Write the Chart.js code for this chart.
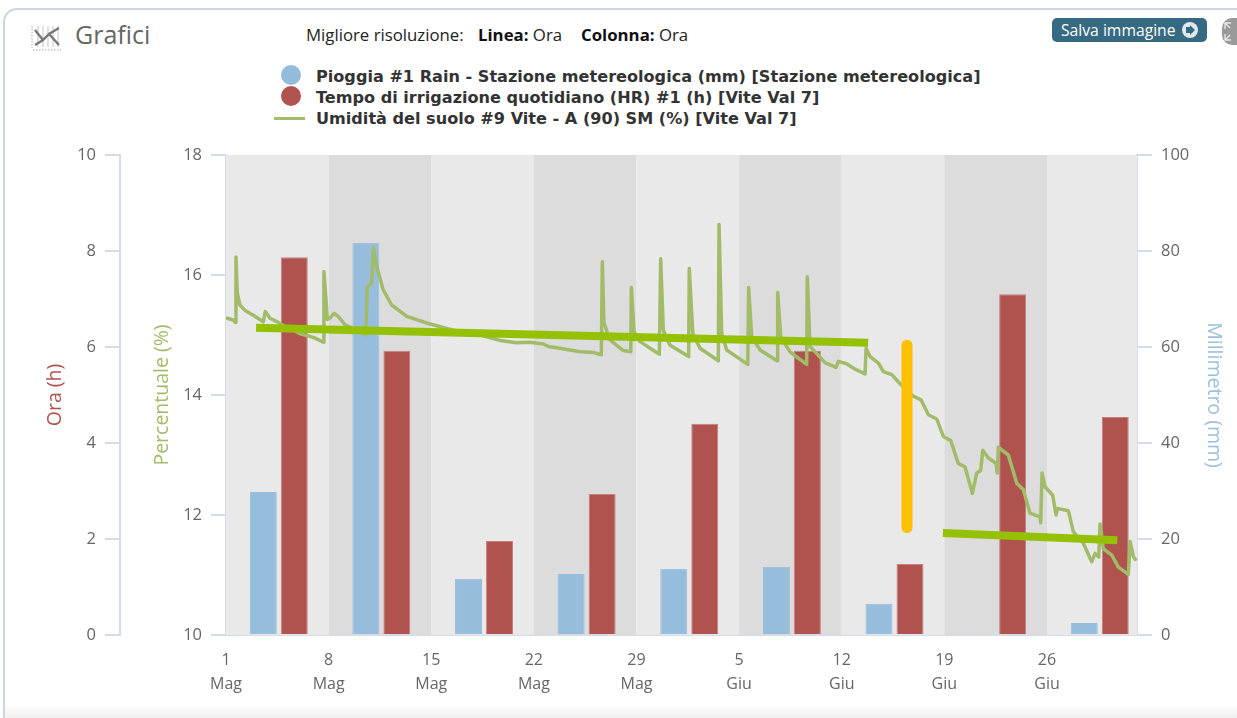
<!DOCTYPE html>
<html lang="it">
<head>
<meta charset="utf-8">
<title>Grafici</title>
<script src="https://cdn.jsdelivr.net/npm/chart.js@4/dist/chart.umd.min.js"></script>
<style>
    html, body { margin: 0; padding: 0; background: #fff; overflow: hidden; }
    body { width: 1237px; height: 718px; position: relative; font-family: "Open Sans", sans-serif; color: #222; }
    canvas { position: absolute; left: 0; top: 0; }
    .card {
        position: absolute; left: 3px; top: 8px; width: 1300px; height: 760px; box-sizing: border-box;
        border: 2px solid #ccd5df; border-radius: 14px;
    }
    .fade { position: absolute; left: 5px; right: 0; top: 704px; height: 14px; background: linear-gradient(#fff, #f0f0f0); }
    .txt { position: absolute; white-space: nowrap; line-height: 20px; }
    .title { left: 75px; top: 18px; font-size: 25px; line-height: 32px; color: #666; }
    .res { top: 25px; font-size: 16.8px; color: #222; }
    .res b { font-weight: 700; color: #111; }
    .leg { left: 316px; font-family: "DejaVu Sans", sans-serif; font-size: 16.1px; font-weight: 700; color: #333; }
    .dot { position: absolute; left: 281px; width: 20px; height: 20px; border-radius: 50%; }
    .dash { position: absolute; left: 274px; top: 117px; width: 31px; height: 3px; background: #a3bd6b; }
    .save {
        position: absolute; left: 1052px; top: 18px; width: 155px; height: 24px; border-radius: 5px;
        background: #366a82; color: #fff; font-size: 15.7px; line-height: 24px; padding-left: 9px; box-sizing: border-box;
    }
    .save svg { position: absolute; right: 9px; top: 4px; }
    .zoom { position: absolute; left: 1222px; top: 18px; width: 30px; height: 27px; border-radius: 10px; background: #9a9a9a; }
    svg.icon { position: absolute; left: 30px; top: 23px; }
    svg.arrows { position: absolute; left: 1224px; top: 22px; }
</style>
</head>
<body>
<div class="card"></div>
<div class="fade"></div>
<svg class="icon" width="34" height="32" viewBox="0 0 34 32">
    <g stroke="#c4c4c4" stroke-width="1">
        <path d="M8 3V24M13 3V24M18 3V24M23 3V24M28 3V24"/>
    </g>
    <path d="M2 3V25M3 27H31" stroke="#aaa" stroke-width="1" stroke-dasharray="1.5 1.5" fill="none"/>
    <path d="M5 7L13 17L19 11L29 22M5 22L13 17L19 11L29 5" stroke="#777" stroke-width="2.4" fill="none"/>
</svg>
<div class="txt title">Grafici</div>
<div class="txt res" style="left:306px">Migliore risoluzione:</div>
<div class="txt res" style="left:478px"><b>Linea:</b> Ora</div>
<div class="txt res" style="left:581px"><b>Colonna:</b> Ora</div>
<div class="save">Salva immagine<svg width="16" height="16" viewBox="0 0 16 16">
    <circle cx="8" cy="8" r="8" fill="#dfe8ec"/>
    <path d="M4 5H8V3L13 8L8 13V11H4Z" fill="#366a82"/>
</svg></div>
<div class="zoom"></div>
<svg class="arrows" width="13" height="19" viewBox="0 0 13 19">
    <path d="M1 7V1H7M1 1L6 6M1 12V18H7M1 18L6 13" stroke="#e8e8e8" stroke-width="1.3" fill="none"/>
</svg>

<div class="dot" style="top:65px;background:#93bbdc"></div>
<div class="dot" style="top:86px;background:#b0524e"></div>
<div class="dash"></div>
<div class="txt leg" style="top:67px" id="legRain"></div>
<div class="txt leg" style="top:88px" id="legIrr"></div>
<div class="txt leg" style="top:109px" id="legSoil"></div>

<canvas id="chart" width="1237" height="718"></canvas>

<script>
// x axis is in days counted from 1 May
const tickDays = [0, 7, 14, 21, 28, 35, 42, 49, 56];
const tickDayLabels = ["1", "8", "15", "22", "29", "5", "12", "19", "26"];
const tickMonthLabels = ["Mag", "Mag", "Mag", "Mag", "Mag", "Giu", "Giu", "Giu", "Giu"];
const bandEdges = [0, 7, 14, 21, 28, 35, 42, 49, 56, 62.14];

const weekCenters = [3.6, 10.6, 17.6, 24.6, 31.6, 38.6, 45.6, 52.6, 59.6];
const rainMm = [29.8, 81.7, 11.7, 12.7, 13.8, 14.2, 6.5, null, 2.5];
const irrigationHours = [7.87, 5.92, 1.96, 2.94, 4.4, 5.92, 1.48, 7.1, 4.54];

const moistureDays = [
    0.09, 0.5, 0.63, 0.68, 0.77, 0.95, 1.3, 1.86, 2.54, 2.68, 3, 3.57, 4.14, 5.05, 5.96, 6.64, 6.68, 6.82, 6.91, 7.09,
    7.37, 7.66, 8.12, 8.68, 9.53, 9.64, 9.94, 10.05, 10.28, 10.73, 11.3, 12.33, 13.69, 15.5, 17.33, 18.69, 19.83, 20.74,
    21.64, 21.99, 22.78, 23.47, 24.15, 25.05, 25.6, 25.67, 25.78, 26.19, 27.1, 27.61, 27.65, 27.83, 28.24, 29.56, 29.65,
    29.83, 30.29, 31.56, 31.6, 31.84, 32.33, 33.58, 33.63, 33.81, 34.15, 35.59, 35.65, 35.86, 36.43, 37.59, 37.63, 37.84,
    38.47, 39.61, 39.65, 39.84, 40.86, 41.61, 41.77, 42.34, 42.91, 43.59, 43.66, 43.93, 44.5, 44.84, 45.41, 45.93, 46.88,
    47.41, 47.91, 48.48, 48.93, 49.43, 49.95, 50.41, 50.91, 51.21, 51.48, 51.62, 52, 52.52, 52.61, 52.68, 53.36, 53.94,
    54.39, 54.84, 55.53, 55.57, 55.66, 55.87, 56.39, 56.62, 56.71, 57.46, 57.8, 58.48, 59.05, 59.28, 59.53, 59.62, 59.84,
    60.42, 60.87, 61.55, 61.67, 61.89, 62.03
];
const moisturePct = [
    15.28, 15.25, 15.21, 16.3, 15.7, 15.5, 15.41, 15.33, 15.22, 15.39, 15.28, 15.21, 15.13, 15.02, 14.96, 14.88, 16.06, 15.58, 15.26, 15.28,
    15.36, 15.31, 15.17, 15.11, 15, 15.81, 15.86, 16.45, 16.14, 15.75, 15.5, 15.31, 15.2, 15.08, 15, 14.91, 14.87, 14.88,
    14.85, 14.81, 14.78, 14.75, 14.72, 14.71, 14.67, 16.22, 15.2, 14.92, 14.74, 14.72, 15.79, 15.06, 14.89, 14.68, 16.27,
    15.08, 14.83, 14.64, 16.11, 15.03, 14.78, 14.57, 16.84, 15.03, 14.75, 14.51, 15.79, 14.97, 14.75, 14.57, 15.71, 14.97,
    14.72, 14.51, 15.97, 14.81, 14.54, 14.46, 14.56, 14.52, 14.43, 14.35, 14.78, 14.64, 14.53, 14.39, 14.34, 14.2, 13.98,
    13.92, 13.67, 13.6, 13.31, 13.24, 12.86, 12.8, 12.36, 12.7, 12.74, 13.08, 12.95, 12.86, 12.7, 13.13, 13, 12.53,
    12.42, 12.03, 11.97, 11.87, 12.7, 12.47, 12.33, 12, 12.11, 12.07, 11.72, 11.53, 11.22, 11.36, 11.3, 11.85, 11.44,
    11.33, 11.13, 11.01, 11.56, 11.31, 11.26
];

// lines drawn by hand over the chart in the original screenshot
const trendA = [[2.05, 15.12], [43.8, 14.87]];
const trendB = [[48.9, 11.7], [60.8, 11.58]];
const dropMark = [[46.45, 14.83], [46.45, 11.79]];

const rainLabel = "Pioggia #1 Rain - Stazione metereologica (mm) [Stazione metereologica]";
const irrigationLabel = "Tempo di irrigazione quotidiano (HR) #1 (h) [Vite Val 7]";
const moistureLabel = "Umidità del suolo #9 Vite - A (90) SM (%) [Vite Val 7]";

document.getElementById("legRain").textContent = rainLabel;
document.getElementById("legIrr").textContent = irrigationLabel;
document.getElementById("legSoil").textContent = moistureLabel;

const AXIS_COLOR = "#d3dbec";
const TICK_COLOR = "#666666";
const FONT = "'Open Sans', sans-serif";

function toPoints(pairs) {
    return pairs.map((p) => ({ x: p[0], y: p[1] }));
}

// the weekly grey stripes behind the bars
const weekBands = {
    id: "weekBands",
    beforeDatasetsDraw(chart) {
        const { ctx, chartArea, scales } = chart;
        ctx.save();
        for (let i = 0; i < bandEdges.length - 1; i++) {
            const left = scales.x.getPixelForValue(bandEdges[i]);
            const right = scales.x.getPixelForValue(bandEdges[i + 1]);
            ctx.fillStyle = i % 2 ? "#dcdcdc" : "#e9e9e9";
            ctx.fillRect(left, chartArea.top, right - left, chartArea.height);
        }
        ctx.restore();
    },
};

function yAxis(position, min, max, step, title, titleColor, titlePad, boxWidth, weight) {
    return {
        type: "linear",
        position: position,
        weight: weight,
        min: min,
        max: max,
        ticks: {
            stepSize: step,
            color: TICK_COLOR,
            padding: 9,
            font: { family: FONT, size: 16.5 },
        },
        grid: { drawOnChartArea: false, color: AXIS_COLOR, tickLength: 15, lineWidth: 2 },
        border: { color: AXIS_COLOR, width: 2 },
        title: {
            display: true,
            text: title,
            color: titleColor,
            padding: { top: titlePad, bottom: 0 },
            font: { family: FONT, size: 19.5 },
        },
        afterFit(scale) {
            scale.width = boxWidth;
            scale.paddingTop = 0;
            scale.paddingBottom = 0;
        },
    };
}

new Chart(document.getElementById("chart"), {
    data: {
        datasets: [
            {
                type: "bar",
                label: rainLabel,
                yAxisID: "yRain",
                order: 3,
                data: weekCenters.map((d, i) => ({ x: d, y: rainMm[i] })),
                backgroundColor: "#97bddd",
                borderColor: "#97bddd",
                borderWidth: 1,
                categoryPercentage: 0.604,
                barPercentage: 0.87,
            },
            {
                type: "bar",
                label: irrigationLabel,
                yAxisID: "yHours",
                order: 3,
                data: weekCenters.map((d, i) => ({ x: d, y: irrigationHours[i] })),
                backgroundColor: "#b0534f",
                borderColor: "#c47f7c",
                borderWidth: 1,
                categoryPercentage: 0.604,
                barPercentage: 0.87,
            },
            {
                type: "line",
                label: moistureLabel,
                yAxisID: "yPct",
                order: 2,
                data: moistureDays.map((d, i) => ({ x: d, y: moisturePct[i] })),
                borderColor: "#a1bb69",
                borderWidth: 3.5,
                borderJoinStyle: "round",
                borderCapStyle: "round",
                pointRadius: 0,
                tension: 0,
            },
            {
                type: "line",
                label: "trend A",
                yAxisID: "yPct",
                order: 1,
                data: toPoints(trendA),
                borderColor: "#94c006",
                borderWidth: 8,
                borderCapStyle: "butt",
                pointRadius: 0,
            },
            {
                type: "line",
                label: "trend B",
                yAxisID: "yPct",
                order: 1,
                data: toPoints(trendB),
                borderColor: "#94c006",
                borderWidth: 8,
                borderCapStyle: "butt",
                pointRadius: 0,
            },
            {
                type: "line",
                label: "drop",
                yAxisID: "yPct",
                order: 1,
                data: toPoints(dropMark),
                borderColor: "#ffc000",
                borderWidth: 11,
                borderCapStyle: "round",
                pointRadius: 0,
            },
        ],
    },
    options: {
        responsive: false,
        animation: false,
        layout: { padding: { top: 155, left: 0, right: 0, bottom: 0 } },
        plugins: { legend: { display: false }, tooltip: { enabled: false } },
        scales: {
            x: {
                type: "linear",
                offset: false,
                min: 0,
                max: 62.14,
                afterBuildTicks(scale) {
                    scale.ticks = tickDays.map((d) => ({ value: d }));
                },
                ticks: {
                    autoSkip: false,
                    maxRotation: 0,
                    padding: 13,
                    color: TICK_COLOR,
                    font: { family: FONT, size: 16, lineHeight: 1.5 },
                    callback: function (value) {
                        const i = tickDays.indexOf(value);
                        return [tickDayLabels[i], tickMonthLabels[i]];
                    },
                },
                grid: { drawOnChartArea: false, drawTicks: false },
                border: { color: AXIS_COLOR, width: 2 },
                afterFit(scale) {
                    scale.height = 83;
                    scale.paddingLeft = 0;
                    scale.paddingRight = 0;
                },
            },
            yHours: yAxis("left", 0, 10, 2, "Ora (h)", "#b0524e", 44, 120, 2),
            yPct: yAxis("left", 10, 18, 2, "Percentuale (%)", "#a2bb66", 31, 106, 1),
            yRain: yAxis("right", 0, 100, 20, "Millimetro (mm)", "#9cc0de", 12, 100, 1),
        },
    },
    plugins: [weekBands],
});
</script>
</body>
</html>
